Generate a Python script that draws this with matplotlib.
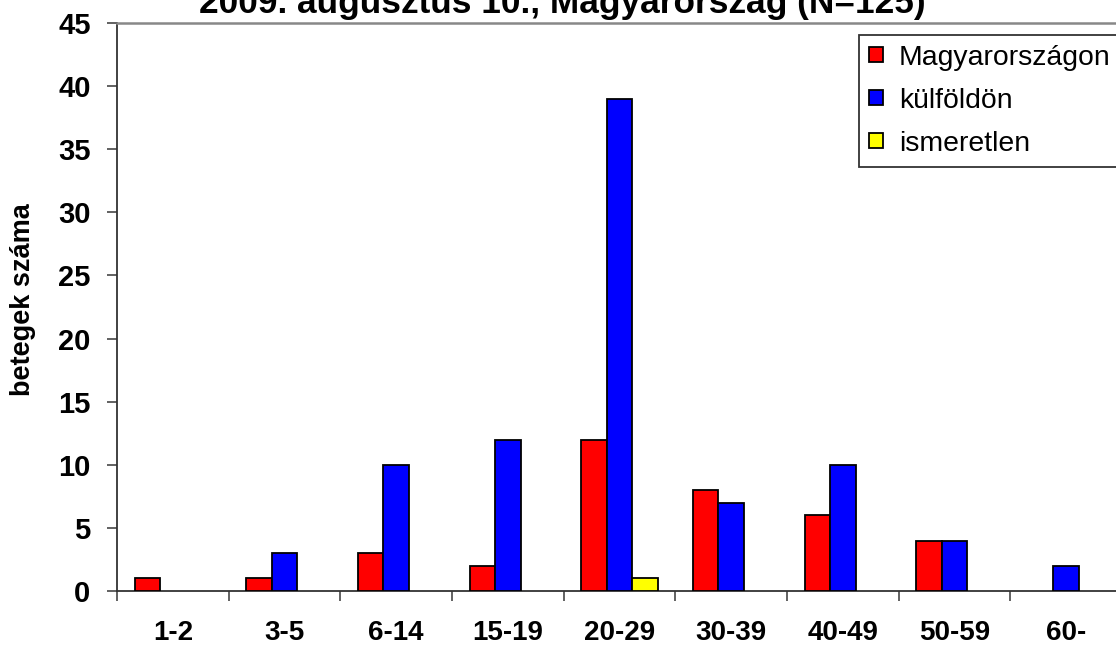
import matplotlib
matplotlib.use("Agg")
import matplotlib.pyplot as plt
import numpy as np
from matplotlib.patches import Patch

categories = ["1-2", "3-5", "6-14", "15-19", "20-29", "30-39", "40-49", "50-59", "60-"]
magyar = [1, 1, 3, 2, 12, 8, 6, 4, 0]
kulfold = [0, 3, 10, 12, 39, 7, 10, 4, 2]
ismeretlen = [0, 0, 0, 0, 1, 0, 0, 0, 0]
series_names = ["Magyarországon", "külföldön", "ismeretlen"]
colors = ["#FF0000", "#0000FF", "#FFFF00"]
title = "2009. augusztus 10., Magyarország (N=125)"
ylabel = "betegek száma"

plt.rcParams['font.family'] = ['Liberation Sans', 'DejaVu Sans']

fig = plt.figure(figsize=(11.16, 6.48), dpi=100)
W, H = 1116, 648
left, right, top, bottom = 117, 1122, 23, 591
ax = fig.add_axes([left / W, (H - bottom) / H, (right - left) / W, (bottom - top) / H])

x = np.arange(len(categories)) + 0.5
w = 0.227
for i, (vals, c) in enumerate(zip([magyar, kulfold, ismeretlen], colors)):
    xs = x + (i - 1) * w
    for xi, v in zip(xs, vals):
        if v > 0:
            ax.bar(xi, v, width=w, color=c, edgecolor="black", linewidth=1.3, zorder=3)

ax.set_xlim(0, 9)
ax.set_ylim(0, 45)
ax.set_yticks(range(0, 46, 5))
ax.set_xticks(x)
ax.set_xticklabels(categories, fontsize=20, fontweight="bold")
ax.set_xticks(np.arange(0, 10), minor=True)
ax.tick_params(axis="x", which="major", length=0, pad=21)
ax.tick_params(axis="x", which="minor", length=7, width=1.3, color="#555555", direction="out")
ax.tick_params(axis="y", length=7, width=1.3, color="#555555", direction="out", labelsize=21, pad=12)
for lab in ax.get_yticklabels():
    lab.set_fontweight("bold")

ax.spines["right"].set_visible(False)
ax.spines["top"].set_color("#888888")
ax.spines["top"].set_linewidth(1.8)
ax.spines["left"].set_color("#333333")
ax.spines["bottom"].set_color("#333333")
ax.spines["left"].set_linewidth(1.3)
ax.spines["bottom"].set_linewidth(1.3)

fig.text(23 / W, 1 - 300 / H, ylabel, fontsize=19.5, fontweight="bold", rotation=90,
         ha="center", va="center")
fig.text(562 / W, 1 - 13 / H, title, fontsize=25.4, fontweight="bold", ha="center", va="baseline")

handles = [Patch(facecolor=c, edgecolor="black", linewidth=1.3) for c in colors]
leg = fig.legend(handles, series_names, loc="upper left", bbox_to_anchor=(859 / W, 1 - 35 / H),
                 fontsize=20.4, frameon=True, fancybox=False, shadow=False, edgecolor="black",
                 handlelength=0.5, handleheight=0.45, handletextpad=0.55, labelspacing=0.6,
                 borderpad=0.35, borderaxespad=0)
leg.get_frame().set_linewidth(1.3)

fig.savefig("out.png", dpi=100)
